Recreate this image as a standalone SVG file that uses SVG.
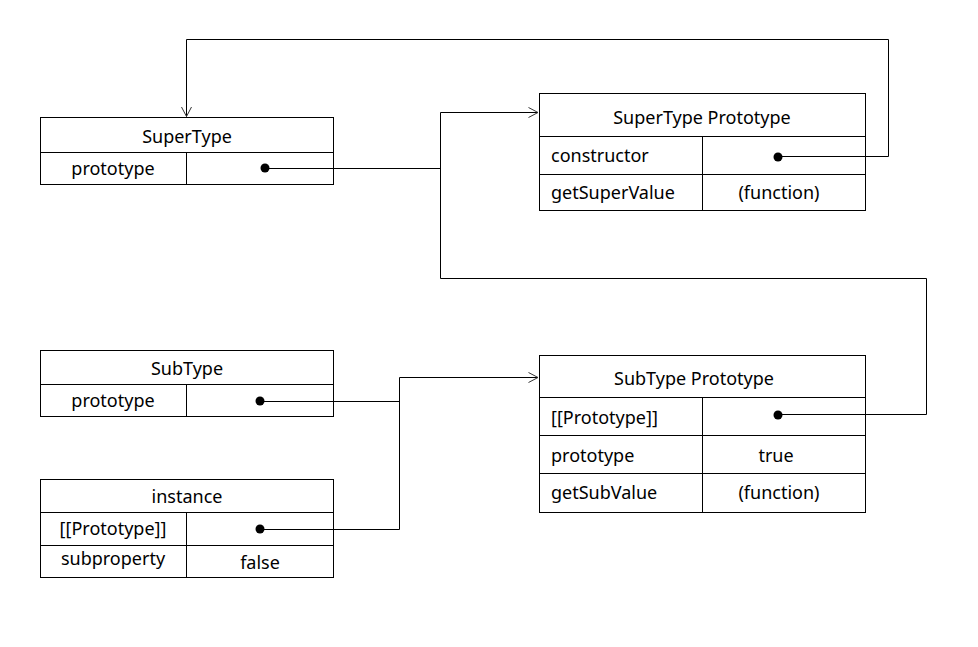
<svg xmlns="http://www.w3.org/2000/svg" width="978" height="647" viewBox="0 0 978 647">
<defs>
<style>
.box{fill:#fff;stroke:#000;stroke-width:1}
.ln{fill:none;stroke:#000;stroke-width:1}
.t{font-family:"Noto Sans","Open Sans","DejaVu Sans",sans-serif;font-size:18px;fill:#000}
.c{text-anchor:middle}
.dot{fill:#000}
.con{fill:none;stroke:#000;stroke-width:1}
</style>
<marker id="arr" markerWidth="12" markerHeight="12" refX="10" refY="6" orient="auto" markerUnits="userSpaceOnUse">
<path d="M0.5,1 L10,6 L0.5,11" fill="none" stroke="#333" stroke-width="1"/>
</marker>
</defs>
<rect width="978" height="647" fill="#fff"/>

<g id="supertype">
<rect class="box" x="40.5" y="117.5" width="293" height="67"/>
<path class="ln" d="M40.5,152.5 H333.5 M186.5,152.5 V184.5"/>
<text class="t c" x="187" y="143">SuperType</text>
<text class="t c" x="113" y="175">prototype</text>
<circle class="dot" cx="265" cy="168" r="4.5"/>
</g>

<g id="supertype-prototype">
<rect class="box" x="539.5" y="93.5" width="326" height="117"/>
<path class="ln" d="M539.5,136.5 H865.5 M539.5,174.5 H865.5 M702.5,136.5 V210.5"/>
<text class="t c" x="702" y="124">SuperType Prototype</text>
<text class="t" x="551" y="162">constructor</text>
<text class="t" x="551" y="199">getSuperValue</text>
<text class="t c" x="779" y="199">(function)</text>
<circle class="dot" cx="778" cy="157" r="4.5"/>
</g>

<g id="subtype">
<rect class="box" x="40.5" y="350.5" width="293" height="66"/>
<path class="ln" d="M40.5,384.5 H333.5 M186.5,384.5 V416.5"/>
<text class="t c" x="187" y="375">SubType</text>
<text class="t c" x="113" y="407">prototype</text>
<circle class="dot" cx="260" cy="401" r="4.5"/>
</g>

<g id="instance">
<rect class="box" x="40.5" y="479.5" width="293" height="98"/>
<path class="ln" d="M40.5,512.5 H333.5 M40.5,545.5 H333.5 M186.5,512.5 V577.5"/>
<text class="t c" x="187" y="503">instance</text>
<text class="t c" x="113" y="535">[[Prototype]]</text>
<text class="t c" x="113" y="565">subproperty</text>
<text class="t c" x="260" y="569">false</text>
<circle class="dot" cx="260" cy="529" r="4.5"/>
</g>

<g id="subtype-prototype">
<rect class="box" x="539.5" y="355.5" width="326" height="157"/>
<path class="ln" d="M539.5,397.5 H865.5 M539.5,435.5 H865.5 M539.5,473.5 H865.5 M702.5,397.5 V512.5"/>
<text class="t c" x="694" y="385">SubType Prototype</text>
<text class="t" x="551" y="424">[[Prototype]]</text>
<text class="t" x="551" y="462">prototype</text>
<text class="t c" x="776" y="462">true</text>
<text class="t" x="551" y="499">getSubValue</text>
<text class="t c" x="779" y="499">(function)</text>
<circle class="dot" cx="778" cy="415" r="4.5"/>
</g>

<g id="connectors">
<path class="con" d="M888.5,156.5 V39.5 H186.5 V116.5" marker-end="url(#arr)"/>
<path class="con" d="M778,156.5 H888.5"/>
<path class="con" d="M265,168.5 H440.5"/>
<path class="con" d="M440.5,278.5 V112.5 H538" marker-end="url(#arr)"/>
<path class="con" d="M440.5,278.5 H926.5 V414.5 H778"/>
<path class="con" d="M260,401.5 H399.5"/>
<path class="con" d="M260,529.5 H399.5 V377.5 H538" marker-end="url(#arr)"/>
</g>
</svg>
